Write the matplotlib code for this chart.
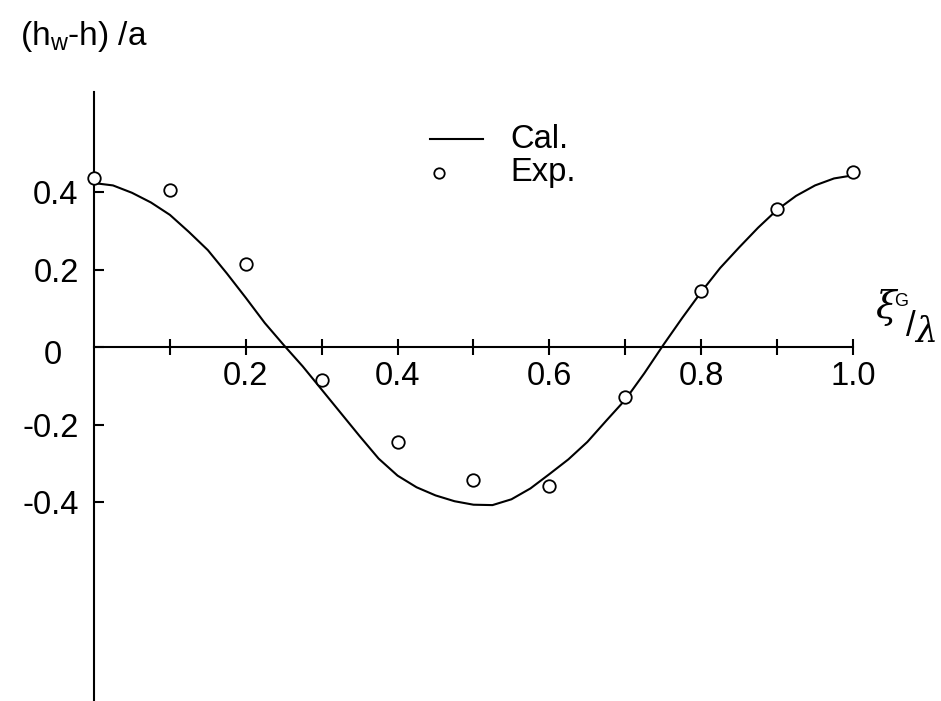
import matplotlib
matplotlib.use("Agg")
import matplotlib.pyplot as plt
from matplotlib.lines import Line2D

plt.rcParams["font.family"] = ["Liberation Sans", "DejaVu Sans"]
plt.rcParams["mathtext.fontset"] = "custom"
plt.rcParams["mathtext.rm"] = "Liberation Sans"

# calculated relative wave height along the hull (solid line)
cal_x = [0.0, 0.025, 0.05, 0.075, 0.1, 0.125, 0.15, 0.175, 0.2, 0.225,
         0.25, 0.275, 0.3, 0.325, 0.35, 0.375, 0.4, 0.425, 0.45, 0.475,
         0.5, 0.525, 0.55, 0.575, 0.6, 0.625, 0.65, 0.675, 0.7, 0.725,
         0.75, 0.775, 0.8, 0.825, 0.85, 0.875, 0.9, 0.925, 0.95, 0.975,
         1.0]
cal_y = [0.423, 0.417, 0.398, 0.373, 0.341, 0.297, 0.250, 0.190, 0.127,
         0.062, 0.005, -0.050, -0.110, -0.170, -0.230, -0.288, -0.332,
         -0.362, -0.383, -0.398, -0.407, -0.408, -0.393, -0.365, -0.328,
         -0.290, -0.245, -0.190, -0.136, -0.068, 0.005, 0.075, 0.142,
         0.204, 0.257, 0.308, 0.354, 0.390, 0.417, 0.435, 0.443]

# measured values (open circles)
exp_x = [0.0, 0.1, 0.2, 0.3, 0.4, 0.5, 0.6, 0.7, 0.8, 0.9, 1.0]
exp_y = [0.436, 0.405, 0.214, -0.085, -0.245, -0.343, -0.359, -0.129,
         0.145, 0.356, 0.452]

xtick_pos = [0.1, 0.2, 0.3, 0.4, 0.5, 0.6, 0.7, 0.8, 0.9, 1.0]
xtick_text = ["", "0.2", "", "0.4", "", "0.6", "", "0.8", "", "1.0"]
ytick_pos = [-0.4, -0.2, 0.0, 0.2, 0.4]
ytick_text = ["-0.4", "-0.2", "", "0.2", "0.4"]

W, H = 941, 701
FS = 23.5
LW = 1.5


def fx(px):
    return px / W


def fy(py):
    return 1 - py / H


fig = plt.figure(figsize=(W / 100, H / 100), dpi=100)
ax = fig.add_axes([0, 0, 1, 1])
ax.set_facecolor("none")

# axes cross at the origin, x running 0..1 and y axis reaching to the bottom
ax.set_xlim(-94 / 759, (W - 94) / 759)
ax.set_ylim(-(H - 347) / 387.5, 347 / 387.5)

for side in ("top", "right"):
    ax.spines[side].set_visible(False)
ax.spines["left"].set_position(("data", 0))
ax.spines["bottom"].set_position(("data", 0))
ax.spines["left"].set_bounds(-0.93, 0.658)
ax.spines["bottom"].set_bounds(0, 1.0)
for side in ("left", "bottom"):
    ax.spines[side].set_linewidth(LW)
    ax.spines[side].set_zorder(1)

ax.set_xticks(xtick_pos)
ax.set_xticklabels(xtick_text)
ax.set_yticks(ytick_pos)
ax.set_yticklabels(ytick_text)
ax.tick_params(axis="x", direction="inout", length=11.5, width=LW,
               labelsize=FS, pad=4)
ax.tick_params(axis="y", direction="in", length=7.2, width=LW,
               labelsize=FS, pad=11)

ax.plot(cal_x, cal_y, color="black", lw=LW, zorder=2,
        solid_joinstyle="round")
ax.plot(exp_x, exp_y, "o", ms=9, mfc="white", mec="black", mew=1.3,
        zorder=3, clip_on=False)

# the zero on the y axis sits further left than the other labels
fig.text(fx(53), fy(356), "0", ha="center", va="center", fontsize=FS)

# key
fig.add_artist(Line2D([fx(430), fx(483)], [fy(139), fy(139)],
                      color="black", lw=LW))
fig.add_artist(Line2D([fx(439)], [fy(173)], marker="o", ms=7.5,
                      mfc="white", mec="black", mew=1.3))
fig.text(fx(510), fy(139), "Cal.", ha="left", va="center", fontsize=FS)
fig.text(fx(510), fy(173), "Exp.", ha="left", va="center", fontsize=FS)

# axis titles
fig.text(fx(20), fy(36), r"(h$_\mathrm{w}$-h) /a", ha="left", va="center",
         fontsize=24)
fig.text(fx(875), fy(308), "ξ", ha="left", va="center", fontsize=27,
         style="italic", family=["DejaVu Serif"])
fig.text(fx(894), fy(301), "G", ha="left", va="center", fontsize=13)
fig.text(fx(906), fy(326), "/", ha="left", va="center", fontsize=25)
fig.text(fx(915), fy(332), "λ", ha="left", va="center", fontsize=25,
         style="italic", family=["DejaVu Serif"])

fig.savefig("out.png", dpi=100)
